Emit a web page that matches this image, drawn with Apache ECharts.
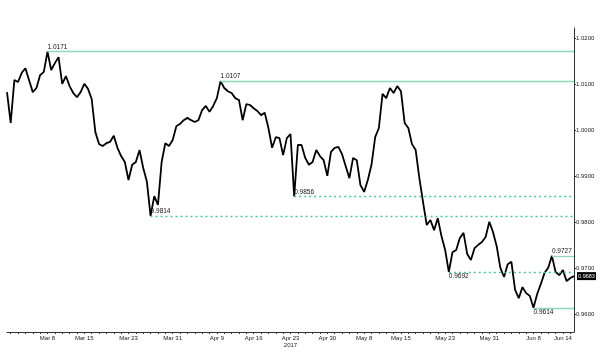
<!DOCTYPE html>
<html><head><meta charset="utf-8">
<script src="https://cdn.jsdelivr.net/npm/echarts@6/dist/echarts.min.js"></script>
<style>html,body{margin:0;padding:0;background:#fff}#c{width:600px;height:352px}</style>
</head><body><div id="c"></div>
<script>
// ---- data ----
const firstSlot = 'Feb 28 PM';
const tradingStartYear = 2017, tradingStartMonth = 3, tradingStartDay = 1;
const tradingDays = 77; // weekdays shown, two half-day slots each
const prices = [
1.0083,1.0016,1.0109,1.0105,1.0125,1.0135,1.0109,1.0083,1.0092,1.0120,
1.0127,1.0171,1.0131,1.0146,1.0159,1.0101,1.0118,1.0096,1.0081,1.0072,
1.0083,1.0101,1.0090,1.0068,0.9996,0.9970,0.9966,0.9972,0.9975,0.9988,
0.9962,0.9944,0.9931,0.9892,0.9925,0.9931,0.9957,0.9918,0.9888,0.9814,
0.9857,0.9838,0.9931,0.9972,0.9966,0.9979,1.0009,1.0014,1.0022,1.0027,
1.0022,1.0018,1.0022,1.0044,1.0053,1.0040,1.0053,1.0070,1.0107,1.0092,
1.0085,1.0081,1.0070,1.0066,1.0022,1.0057,1.0055,1.0048,1.0042,1.0033,
1.0038,1.0005,0.9962,0.9985,0.9983,0.9946,0.9983,0.9992,0.9856,0.9968,
0.9968,0.9940,0.9925,0.9931,0.9957,0.9944,0.9935,0.9901,0.9953,0.9962,
0.9964,0.9948,0.9922,0.9896,0.9940,0.9935,0.9881,0.9866,0.9892,0.9925,
0.9985,1.0005,1.0079,1.0070,1.0092,1.0081,1.0096,1.0085,1.0016,1.0005,
0.9970,0.9957,0.9896,0.9844,0.9794,0.9805,0.9783,0.9809,0.9770,0.9740,
0.9692,0.9735,0.9740,0.9766,0.9777,0.9731,0.9718,0.9744,0.9751,0.9757,
0.9768,0.9801,0.9779,0.9748,0.9701,0.9681,0.9709,0.9714,0.9653,0.9635,
0.9659,0.9646,0.9640,0.9614,0.9644,0.9666,0.9690,0.9701,0.9727,0.9692,
0.9685,0.9696,0.9672,0.9679,0.9683
];
const tickLabels = ['Mar 8','Mar 15','Mar 23','Mar 31','Apr 9','Apr 16','Apr 23','Apr 30','May 8','May 15','May 23','May 31','Jun 8','Jun 14'];
const tickTradingDay = [5,10,16,22,28,33,38,43,48,53,59,65,71,75];
const yearLabel = '2017';
const yearLabelAt = 'Apr 23';
const levelValues = [1.0171, 1.0107, 0.9814, 0.9856, 0.9692, 0.9727, 0.9614];
const levelStartSlot = [11, 58, 39, 78, 120, 148, 143];
const lastPrice = 0.9683;

// ---- categories (half-day slots on weekdays) ----
const monthNames = ['Jan','Feb','Mar','Apr','May','Jun','Jul','Aug','Sep','Oct','Nov','Dec'];
const categories = [firstSlot];
{
  const d = new Date(Date.UTC(tradingStartYear, tradingStartMonth - 1, tradingStartDay));
  while (categories.length < 1 + tradingDays * 2) {
    const wd = d.getUTCDay();
    if (wd !== 0 && wd !== 6) {
      const s = monthNames[d.getUTCMonth()] + ' ' + d.getUTCDate();
      categories.push(s + ' AM', s + ' PM');
    }
    d.setUTCDate(d.getUTCDate() + 1);
  }
}
const labelSlot = {};
tickTradingDay.forEach((k, j) => { labelSlot[1 + 2 * k] = tickLabels[j]; });
const lastSlot = prices.length - 1;

// ---- styles ----
const solidStyle = {color: '#8ed9b9', width: 1.3, type: 'solid', opacity: 1};
const dashStyle = {color: '#4fc698', width: 1.3, type: [2, 3], opacity: 1};
const levelIsDashed = v => (v === 0.9814 || v === 0.9856 || v === 0.9692);
const levelLabelBelow = v => (v === 0.9692 || v === 0.9614);

const chart = echarts.init(document.getElementById('c'), null, {renderer: 'canvas'});
chart.setOption({
  animation: false,
  backgroundColor: '#fff',
  textStyle: {fontFamily: 'Liberation Sans, Arial, sans-serif'},
  grid: {left: 7, right: 26, top: 28, bottom: 20},
  xAxis: {
    type: 'category',
    data: categories,
    boundaryGap: false,
    axisLine: {lineStyle: {color: '#333', width: 1}},
    axisTick: {show: true, length: 2, interval: i => i % 2 === 1, lineStyle: {color: '#333'}},
    axisLabel: {
      interval: i => labelSlot[i] !== undefined,
      formatter: (v, i) => labelSlot[i] === yearLabelAt ? labelSlot[i] + '\n' + yearLabel : (labelSlot[i] || ''),
      fontSize: 6, color: '#222', margin: 3, lineHeight: 7
    },
    splitLine: {show: false}
  },
  yAxis: {
    type: 'value',
    position: 'right',
    min: 0.95615, max: 1.02224,
    splitNumber: 7, minInterval: 0.01, maxInterval: 0.01,
    axisLine: {show: true, lineStyle: {color: '#333', width: 1}},
    axisTick: {show: true, length: 2, lineStyle: {color: '#333'}},
    axisLabel: {
      showMinLabel: false, showMaxLabel: false,
      formatter: v => Math.abs(v * 100 - Math.round(v * 100)) < 1e-6 ? v.toFixed(4) : '',
      fontSize: 6, color: '#222', margin: 2
    },
    splitLine: {show: false}
  },
  series: [{
    type: 'line',
    data: prices,
    showSymbol: false,
    lineStyle: {color: '#000', width: 1.8},
    markLine: {
      silent: true,
      symbol: 'none',
      animation: false,
      data: levelValues.map((v, j) => [
        {
          coord: [levelStartSlot[j], v],
          lineStyle: levelIsDashed(v) ? dashStyle : solidStyle,
          label: {
            show: true,
            position: levelLabelBelow(v) ? 'insideStartBottom' : 'insideStartTop',
            formatter: v.toFixed(4),
            fontSize: 6.5, color: '#111', distance: [0, 1]
          }
        },
        {coord: [lastSlot, v]}
      ])
    },
    markPoint: {
      silent: true,
      animation: false,
      data: [{
        coord: [lastSlot, lastPrice],
        symbol: 'rect',
        symbolSize: [19, 8],
        symbolOffset: [12.5, 0],
        itemStyle: {color: '#000'},
        label: {show: true, position: 'inside', formatter: lastPrice.toFixed(4), color: '#fff', fontSize: 5.5}
      }]
    }
  }]
});
</script>
</body></html>
